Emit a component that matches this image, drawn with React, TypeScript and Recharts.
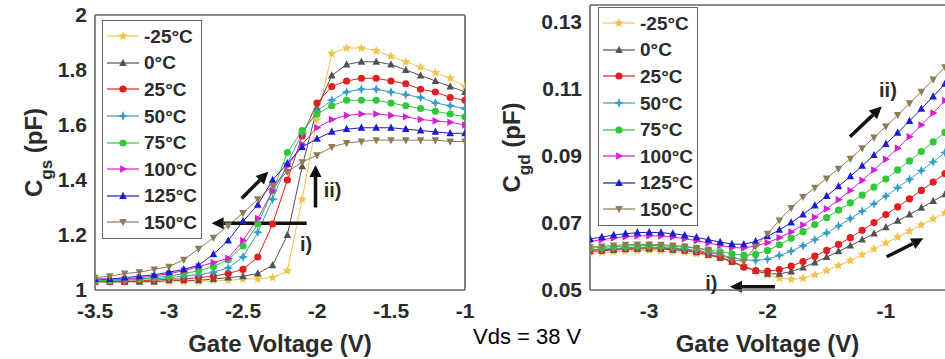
import React from 'react';
import { LineChart, Line, XAxis, YAxis, ReferenceLine, ReferenceDot, Legend, Label } from 'recharts';

const FONT = '"Liberation Sans", Arial, Helvetica, sans-serif';
const INK = '#2b2b2b';
const FRAME = '#666666';

// series styling (one entry per temperature)
const temps = ['-25°C', '0°C', '25°C', '50°C', '75°C', '100°C', '125°C', '150°C'];
const colors = ['#f2c34a', '#525252', '#e02020', '#3a9cc4', '#30c83a', '#d41fd4', '#1c1cc8', '#8c7b55'];
const shapes = ['star', 'triUp', 'circle', 'star4', 'circle', 'triRight', 'triUp', 'triDown'];

// ---- left panel: Cgs vs Vgs ----
const vgsLeft = [-3.5, -3.4, -3.3, -3.2, -3.1, -3.0, -2.9, -2.8, -2.7, -2.6, -2.5, -2.4, -2.3, -2.2, -2.1, -2.0, -1.9, -1.8, -1.7, -1.6, -1.5, -1.4, -1.3, -1.2, -1.1, -1.0];
const cgsM25 = [1.03, 1.03, 1.03, 1.03, 1.03, 1.03, 1.03, 1.03, 1.035, 1.035, 1.04, 1.04, 1.045, 1.07, 1.33, 1.62, 1.86, 1.88, 1.88, 1.87, 1.85, 1.83, 1.81, 1.79, 1.77, 1.74];
const cgs0 = [1.03, 1.03, 1.03, 1.03, 1.03, 1.035, 1.035, 1.035, 1.04, 1.045, 1.05, 1.06, 1.09, 1.2, 1.45, 1.66, 1.78, 1.82, 1.83, 1.83, 1.82, 1.8, 1.78, 1.76, 1.74, 1.72];
const cgs25 = [1.03, 1.03, 1.03, 1.035, 1.035, 1.04, 1.04, 1.045, 1.05, 1.06, 1.075, 1.12, 1.24, 1.4, 1.56, 1.68, 1.74, 1.76, 1.77, 1.77, 1.76, 1.75, 1.73, 1.72, 1.7, 1.69];
const cgs50 = [1.03, 1.035, 1.035, 1.04, 1.04, 1.045, 1.05, 1.055, 1.065, 1.08, 1.12, 1.21, 1.33, 1.46, 1.57, 1.65, 1.69, 1.72, 1.73, 1.73, 1.72, 1.71, 1.7, 1.68, 1.67, 1.66];
const cgs75 = [1.035, 1.035, 1.04, 1.04, 1.045, 1.05, 1.06, 1.07, 1.085, 1.11, 1.16, 1.24, 1.36, 1.5, 1.58, 1.64, 1.67, 1.69, 1.69, 1.69, 1.68, 1.67, 1.66, 1.65, 1.64, 1.63];
const cgs100 = [1.035, 1.04, 1.04, 1.045, 1.05, 1.06, 1.07, 1.085, 1.1, 1.115, 1.18, 1.26, 1.36, 1.45, 1.53, 1.59, 1.62, 1.635, 1.64, 1.64, 1.635, 1.63, 1.62, 1.615, 1.61, 1.6];
const cgs125 = [1.04, 1.04, 1.045, 1.05, 1.055, 1.065, 1.075, 1.09, 1.13, 1.18, 1.25, 1.31, 1.4, 1.46, 1.52, 1.55, 1.575, 1.585, 1.59, 1.59, 1.59, 1.585, 1.58, 1.575, 1.57, 1.57];
const cgs150 = [1.045, 1.05, 1.06, 1.065, 1.075, 1.085, 1.11, 1.15, 1.19, 1.235, 1.28, 1.33, 1.38, 1.43, 1.465, 1.49, 1.52, 1.535, 1.54, 1.545, 1.545, 1.545, 1.545, 1.545, 1.54, 1.54];
const cgsSeries = [cgsM25, cgs0, cgs25, cgs50, cgs75, cgs100, cgs125, cgs150];
const cgsTicksX = [-3.5, -3, -2.5, -2, -1.5, -1];
const cgsTicksY = [1, 1.2, 1.4, 1.6, 1.8, 2];
const cgsArrows = [
  { from: [-2.01, 1.3], to: [-2.01, 1.455] },
  { from: [-2.509, 1.333], to: [-2.329, 1.43] },
  { from: [-2.07, 1.2425], to: [-2.712, 1.2425] },
];
const cgsNotes = [
  { text: 'ii)', at: [-1.895, 1.364] },
  { text: 'i)', at: [-2.074, 1.167] },
];

// ---- right panel: Cgd vs Vgs ----
const vgsRight = [-3.5, -3.4, -3.3, -3.2, -3.1, -3.0, -2.9, -2.8, -2.7, -2.6, -2.5, -2.4, -2.3, -2.2, -2.1, -2.0, -1.9, -1.8, -1.7, -1.6, -1.5, -1.4, -1.3, -1.2, -1.1, -1.0, -0.9, -0.8, -0.7, -0.6, -0.5];
const cgdM25 = [0.061, 0.0612, 0.0614, 0.0616, 0.0617, 0.0618, 0.0617, 0.0615, 0.0612, 0.0608, 0.0603, 0.0595, 0.0585, 0.0573, 0.0558, 0.0545, 0.0535, 0.0532, 0.0535, 0.0545, 0.0558, 0.0573, 0.0588, 0.0605, 0.0622, 0.064, 0.0658, 0.0676, 0.0694, 0.0712, 0.073];
const cgd0 = [0.0615, 0.0617, 0.0619, 0.0621, 0.0622, 0.0623, 0.0622, 0.062, 0.0617, 0.0612, 0.0605, 0.0596, 0.0584, 0.057, 0.0557, 0.0548, 0.0548, 0.0555, 0.0567, 0.0582, 0.0598, 0.0615, 0.0632, 0.065, 0.0668, 0.0687, 0.0706, 0.0725, 0.0745, 0.0765, 0.0785];
const cgd25 = [0.0618, 0.062, 0.0622, 0.0624, 0.0625, 0.0626, 0.0625, 0.0623, 0.062, 0.0615, 0.0608, 0.0598, 0.0585, 0.0568, 0.0558, 0.0556, 0.0561, 0.0571, 0.0585, 0.0601, 0.0618, 0.0636, 0.0656, 0.0678, 0.0701, 0.0725, 0.0748, 0.0772, 0.0797, 0.0822, 0.0847];
const cgd50 = [0.062, 0.0622, 0.0624, 0.0626, 0.0627, 0.0628, 0.0627, 0.0625, 0.0622, 0.0618, 0.0612, 0.0605, 0.0597, 0.059, 0.0588, 0.0592, 0.0603, 0.0616, 0.0632, 0.065, 0.067, 0.0691, 0.0713, 0.0735, 0.0757, 0.078, 0.0805, 0.083, 0.0856, 0.0882, 0.091];
const cgd75 = [0.0625, 0.0627, 0.0629, 0.0631, 0.0632, 0.0633, 0.0632, 0.063, 0.0628, 0.0625, 0.062, 0.0614, 0.0608, 0.0604, 0.0606, 0.0618, 0.0635, 0.0654, 0.0674, 0.0695, 0.0716, 0.0738, 0.076, 0.0783, 0.0807, 0.0831, 0.0858, 0.0885, 0.0913, 0.0942, 0.097];
const cgd100 = [0.0645, 0.065, 0.0655, 0.0659, 0.0661, 0.0662, 0.0661, 0.0658, 0.0653, 0.0647, 0.064, 0.0633, 0.0627, 0.0625, 0.0632, 0.0641, 0.0656, 0.0673, 0.0694, 0.0717, 0.0742, 0.0769, 0.0797, 0.0827, 0.0858, 0.089, 0.0923, 0.0957, 0.0992, 0.1028, 0.1065];
const cgd125 = [0.0652, 0.0658, 0.0664, 0.0668, 0.0671, 0.0672, 0.0671, 0.0668, 0.0663, 0.0657, 0.065, 0.0643, 0.0637, 0.0636, 0.0645, 0.066, 0.0679, 0.0701, 0.0725, 0.0752, 0.078, 0.0809, 0.0839, 0.087, 0.0902, 0.0935, 0.0969, 0.1004, 0.104, 0.1077, 0.1115];
const cgd150 = [0.0628, 0.063, 0.0633, 0.0635, 0.0636, 0.0636, 0.0635, 0.0633, 0.063, 0.0625, 0.0618, 0.0605, 0.059, 0.0585, 0.063, 0.0668, 0.0708, 0.0745, 0.0778, 0.0805, 0.0833, 0.0862, 0.0892, 0.0923, 0.0955, 0.0988, 0.1022, 0.1057, 0.1092, 0.1128, 0.1165];
const cgdSeries = [cgdM25, cgd0, cgd25, cgd50, cgd75, cgd100, cgd125, cgd150];
const cgdTicksX = [-3, -2, -1];
const cgdTicksY = [0.05, 0.07, 0.09, 0.11, 0.13];
const cgdArrows = [
  { from: [-1.303, 0.0957], to: [-1.035, 0.1047] },
  { from: [-0.993, 0.0599], to: [-0.683, 0.0654] },
  { from: [-1.937, 0.051], to: [-2.317, 0.051] },
];
const cgdNotes = [
  { text: 'ii)', at: [-0.982, 0.1096] },
  { text: 'i)', at: [-2.475, 0.052] },
];

const toRows = (xs: number[], series: number[][]) =>
  xs.map((v, i) => {
    const row: any = { v };
    series.forEach((s, k) => {
      row['t' + k] = s[i];
    });
    return row;
  });

const cgsData = toRows(vgsLeft, cgsSeries);
const cgdData = toRows(vgsRight, cgdSeries);

function starPoints(cx: number, cy: number, n: number, ro: number, ri: number) {
  const pts: string[] = [];
  for (let i = 0; i < n * 2; i++) {
    const r = i % 2 === 0 ? ro : ri;
    const a = -Math.PI / 2 + (i * Math.PI) / n;
    pts.push(`${cx + r * Math.cos(a)},${cy + r * Math.sin(a)}`);
  }
  return pts.join(' ');
}

function MarkerGlyph({ cx, cy, shape, color, s = 3.6 }: any) {
  if (cx == null || cy == null || isNaN(cx) || isNaN(cy)) return null;
  switch (shape) {
    case 'circle':
      return <circle cx={cx} cy={cy} r={s} fill={color} />;
    case 'triUp':
      return <polygon points={`${cx},${cy - s * 1.2} ${cx + s * 1.05},${cy + s * 0.8} ${cx - s * 1.05},${cy + s * 0.8}`} fill={color} />;
    case 'triDown':
      return <polygon points={`${cx},${cy + s * 1.2} ${cx + s * 1.05},${cy - s * 0.8} ${cx - s * 1.05},${cy - s * 0.8}`} fill={color} />;
    case 'triRight':
      return <polygon points={`${cx + s * 1.2},${cy} ${cx - s * 0.8},${cy - s * 1.05} ${cx - s * 0.8},${cy + s * 1.05}`} fill={color} />;
    case 'star4':
      return <polygon points={starPoints(cx, cy, 4, s * 1.4, s * 0.55)} fill={color} />;
    default:
      return <polygon points={starPoints(cx, cy, 5, s * 1.35, s * 0.6)} fill={color} />;
  }
}

const dotFor = (k: number) => (p: any) => (
  <g key={`d${k}-${p.index}`}>
    <MarkerGlyph cx={p.cx} cy={p.cy} shape={shapes[k]} color={colors[k]} />
  </g>
);

const arrowShape = (p: any) => {
  const { x1, y1, x2, y2 } = p;
  const ang = Math.atan2(y2 - y1, x2 - x1);
  const L = 12;
  const W = 6;
  const bx = x2 - L * Math.cos(ang);
  const by = y2 - L * Math.sin(ang);
  const nx = -Math.sin(ang) * W;
  const ny = Math.cos(ang) * W;
  return (
    <g>
      <line x1={x1} y1={y1} x2={bx} y2={by} stroke="#111" strokeWidth={3.5} />
      <polygon points={`${x2},${y2} ${bx + nx},${by + ny} ${bx - nx},${by - ny}`} fill="#111" />
    </g>
  );
};

const noteShape = (text: string) => (p: any) => (
  <text x={p.cx} y={p.cy} dy="0.35em" textAnchor="middle" fontFamily={FONT} fontWeight="bold" fontSize={20} fill={INK}>
    {text}
  </text>
);

const yTitle = (sub: string, offX: number) => (props: any) => {
  const { x, y, height } = props.viewBox;
  const cx = x + offX;
  const cy = y + height / 2;
  return (
    <text x={cx} y={cy} dy="0.35em" transform={`rotate(-90 ${cx} ${cy})`} textAnchor="middle" fontFamily={FONT} fontWeight="bold" fontSize={24} fill={INK}>
      C<tspan baselineShift="sub" fontSize={17}>{sub}</tspan>
      <tspan> (pF)</tspan>
    </text>
  );
};

const xTitle = (props: any) => {
  const { x, y, width } = props.viewBox;
  return (
    <text x={x + width / 2} y={y + 62} textAnchor="middle" fontFamily={FONT} fontWeight="bold" fontSize={24} fill={INK}>
      Gate Voltage (V)
    </text>
  );
};

function LegendBox() {
  return (
    <div style={{ border: `1.5px solid ${FRAME}`, background: '#fff', padding: '2px 0', boxSizing: 'border-box', width: 100 }}>
      {temps.map((t, k) => (
        <div key={t} style={{ display: 'flex', alignItems: 'center', height: 26.6 }}>
          <svg width={34} height={14} style={{ marginLeft: 3 }}>
            <line x1={1} y1={7} x2={33} y2={7} stroke={colors[k]} strokeWidth={1.2} />
            <MarkerGlyph cx={17} cy={7} shape={shapes[k]} color={colors[k]} />
          </svg>
          <span style={{ marginLeft: 4, fontFamily: FONT, fontWeight: 'bold', fontSize: 19, color: INK, lineHeight: 1 }}>{t}</span>
        </div>
      ))}
    </div>
  );
}

const tickStyle = { fontSize: 21, fontWeight: 'bold', fill: INK, fontFamily: FONT };
const fmt = (v: number) => String(v);

function CgsChart() {
  return (
    <LineChart width={480} height={359} data={cgsData} margin={{ top: 15, right: 15, bottom: 0, left: 0 }}>
      <XAxis dataKey="v" type="number" domain={[-3.5, -1]} ticks={cgsTicksX} tickFormatter={fmt} allowDataOverflow
        height={69} tick={tickStyle} tickLine={false} tickSize={6} tickMargin={7} axisLine={{ stroke: FRAME, strokeWidth: 1.6 }}>
        <Label content={xTitle} />
      </XAxis>
      <YAxis type="number" domain={[1, 2]} ticks={cgsTicksY} tickFormatter={fmt} allowDataOverflow
        width={95} tick={tickStyle} tickLine={false} tickSize={6} tickMargin={2} axisLine={{ stroke: FRAME, strokeWidth: 1.6 }}>
        <Label content={yTitle('gs', 34)} />
      </YAxis>
      <ReferenceLine y={2} stroke={FRAME} strokeWidth={1.6} />
      <ReferenceLine x={-1} stroke={FRAME} strokeWidth={1.6} />
      {cgsSeries.map((_, k) => (
        <Line key={k} dataKey={'t' + k} name={temps[k]} type="linear" stroke={colors[k]} strokeWidth={1}
          dot={dotFor(k)} activeDot={false} isAnimationActive={false} />
      ))}
      {cgsArrows.map((a, i) => (
        <ReferenceLine key={'a' + i} segment={[{ x: a.from[0], y: a.from[1] }, { x: a.to[0], y: a.to[1] }]} shape={arrowShape} />
      ))}
      {cgsNotes.map((n, i) => (
        <ReferenceDot key={'n' + i} x={n.at[0]} y={n.at[1]} r={0} shape={noteShape(n.text)} />
      ))}
      <Legend layout="vertical" align="center" verticalAlign="middle"
        wrapperStyle={{ left: 102, top: 20, width: 100 }} content={() => <LegendBox />} />
    </LineChart>
  );
}

function CgdChart() {
  return (
    <LineChart width={455} height={359} data={cgdData} margin={{ top: 5, right: 0, bottom: 0, left: 0 }}>
      <XAxis dataKey="v" type="number" domain={[-3.5, -0.5]} ticks={cgdTicksX} tickFormatter={fmt} allowDataOverflow
        height={69} tick={tickStyle} tickLine={false} tickSize={6} tickMargin={7} axisLine={{ stroke: FRAME, strokeWidth: 1.6 }}>
        <Label content={xTitle} />
      </XAxis>
      <YAxis type="number" domain={[0.05, 0.135]} ticks={cgdTicksY} tickFormatter={fmt} allowDataOverflow
        width={100} tick={tickStyle} tickLine={false} tickSize={6} tickMargin={2} axisLine={{ stroke: FRAME, strokeWidth: 1.6 }}>
        <Label content={yTitle('gd', 22)} />
      </YAxis>
      <ReferenceLine y={0.135} stroke={FRAME} strokeWidth={1.6} />
      {cgdSeries.map((_, k) => (
        <Line key={k} dataKey={'t' + k} name={temps[k]} type="linear" stroke={colors[k]} strokeWidth={1}
          dot={dotFor(k)} activeDot={false} isAnimationActive={false} />
      ))}
      {cgdArrows.map((a, i) => (
        <ReferenceLine key={'a' + i} segment={[{ x: a.from[0], y: a.from[1] }, { x: a.to[0], y: a.to[1] }]} shape={arrowShape} />
      ))}
      {cgdNotes.map((n, i) => (
        <ReferenceDot key={'n' + i} x={n.at[0]} y={n.at[1]} r={0} shape={noteShape(n.text)} />
      ))}
      <Legend layout="vertical" align="center" verticalAlign="middle"
        wrapperStyle={{ left: 108, top: 7, width: 100 }} content={() => <LegendBox />} />
    </LineChart>
  );
}

export default function App() {
  return (
    <div style={{ position: 'fixed', left: 0, top: 0, width: 945, height: 359, background: '#fff', overflow: 'hidden' }}>
      <div style={{ position: 'absolute', left: 0, top: 0 }}>
        <CgsChart />
      </div>
      <div style={{ position: 'absolute', left: 490, top: 0 }}>
        <CgdChart />
      </div>
      <div style={{ position: 'absolute', left: 473, top: 326, fontFamily: FONT, fontSize: 22, lineHeight: '22px', color: '#000', whiteSpace: 'nowrap' }}>
        Vds = 38 V
      </div>
    </div>
  );
}
